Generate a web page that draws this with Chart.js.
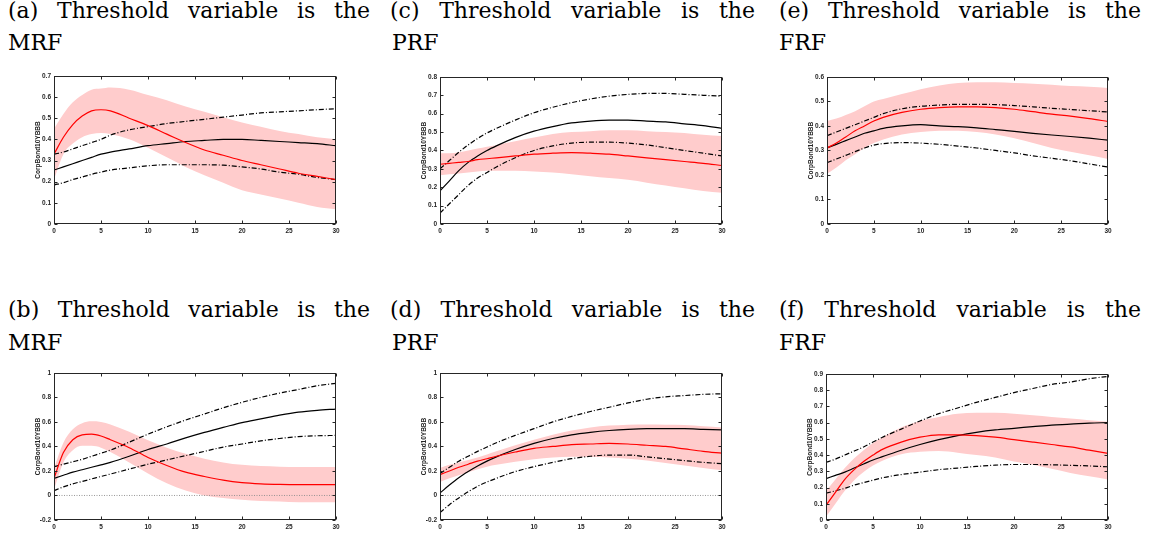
<!DOCTYPE html>
<html>
<head>
<meta charset="utf-8">
<script src="https://cdn.jsdelivr.net/npm/chart.js@4.4.1/dist/chart.umd.min.js"></script>
<style>
  body { margin: 0; background: #fff; width: 1157px; height: 535px; position: relative; overflow: hidden; }
  .cap { position: absolute; font-family: "DejaVu Serif", "Liberation Serif", serif; font-size: 22px; line-height: 24px; color: #000; white-space: nowrap; }
  .cap.l1 { text-align: justify; text-align-last: justify; }
  canvas { position: absolute; }
</style>
</head>
<body>
<div class="cap l1" style="left:8px;top:-1px;width:362px">(a) Threshold variable is the</div>
<div class="cap" style="left:8px;top:31px">MRF</div>
<div class="cap l1" style="left:390px;top:-1px;width:365px">(c) Threshold variable is the</div>
<div class="cap" style="left:392px;top:31px">PRF</div>
<div class="cap l1" style="left:779px;top:-1px;width:362px">(e) Threshold variable is the</div>
<div class="cap" style="left:779px;top:31px">FRF</div>

<div class="cap l1" style="left:8px;top:298px;width:362px">(b) Threshold variable is the</div>
<div class="cap" style="left:8px;top:331px">MRF</div>
<div class="cap l1" style="left:390px;top:298px;width:365px">(d) Threshold variable is the</div>
<div class="cap" style="left:392px;top:331px">PRF</div>
<div class="cap l1" style="left:779px;top:298px;width:362px">(f) Threshold variable is the</div>
<div class="cap" style="left:779px;top:331px">FRF</div>

<script>
// horizons (months after the shock)
const horizons = [0, 1, 2, 3, 4, 5, 6, 8, 10, 12, 14, 16, 18, 20, 22, 24, 26, 28, 30];
const xTicks = [0, 5, 10, 15, 20, 25, 30];
const zeroEnds = [0, 30];
const zeroLevel = [0, 0];

// (a) MRF, upper regime
const aMean   = [.33, .41, .47, .51, .535, .54, .535, .50, .465, .425, .385, .35, .325, .30, .28, .26, .24, .225, .21];
const aBandHi = [.45, .52, .575, .61, .635, .64, .645, .635, .61, .585, .555, .53, .505, .48, .46, .44, .425, .41, .40];
const aBandLo = [.21, .33, .38, .41, .425, .43, .425, .40, .36, .315, .27, .23, .195, .16, .14, .12, .10, .08, .07];
const aIrf    = [.255, .27, .285, .30, .315, .33, .34, .355, .37, .38, .39, .395, .40, .40, .395, .39, .385, .38, .37];
const aHi     = [.33, .34, .355, .37, .385, .40, .42, .445, .46, .475, .485, .495, .505, .515, .525, .53, .535, .54, .545];
const aLo     = [.185, .195, .21, .222, .235, .245, .255, .265, .275, .28, .28, .28, .278, .27, .26, .245, .235, .22, .21];

// (c) PRF, upper regime
const cMean   = [.325, .33, .335, .34, .35, .355, .36, .37, .38, .385, .388, .385, .38, .37, .36, .35, .34, .33, .318];
const cBandHi = [.385, .385, .39, .40, .41, .42, .43, .45, .47, .49, .50, .505, .51, .51, .505, .50, .495, .485, .478];
const cBandLo = [.265, .27, .275, .28, .285, .29, .29, .29, .285, .28, .27, .26, .25, .24, .225, .21, .195, .18, .17];
const cIrf    = [.18, .235, .29, .335, .37, .40, .425, .47, .505, .53, .55, .56, .565, .565, .56, .555, .545, .535, .52];
const cHi     = [.30, .345, .39, .43, .465, .495, .52, .565, .605, .635, .66, .68, .695, .705, .71, .71, .705, .70, .695];
const cLo     = [.06, .11, .16, .21, .25, .28, .31, .36, .40, .425, .44, .445, .445, .44, .43, .415, .40, .385, .37];

// (e) FRF, upper regime
const eMean   = [.31, .33, .355, .38, .40, .42, .435, .455, .468, .475, .478, .478, .475, .468, .458, .448, .44, .43, .418];
const eBandHi = [.42, .43, .445, .46, .48, .50, .51, .53, .55, .565, .575, .578, .578, .575, .572, .568, .563, .56, .555];
const eBandLo = [.205, .23, .26, .285, .31, .33, .345, .365, .375, .38, .38, .375, .365, .35, .33, .31, .295, .28, .265];
const eIrf    = [.31, .325, .34, .355, .37, .38, .39, .40, .405, .40, .397, .392, .385, .378, .37, .363, .357, .35, .342];
const eHi     = [.36, .375, .39, .405, .42, .435, .45, .47, .48, .485, .488, .488, .487, .483, .478, .472, .467, .462, .457];
const eLo     = [.25, .265, .28, .295, .31, .322, .328, .332, .33, .325, .318, .31, .30, .29, .278, .268, .258, .245, .232];

// (b) MRF, lower regime
const bMean   = [.14, .35, .455, .495, .50, .485, .455, .39, .31, .245, .19, .155, .125, .105, .095, .09, .088, .088, .088];
const bBandHi = [.22, .43, .54, .59, .605, .60, .58, .52, .45, .39, .34, .30, .27, .25, .24, .235, .233, .232, .232];
const bBandLo = [.05, .27, .37, .405, .405, .39, .355, .27, .18, .10, .04, .00, -.02, -.035, -.045, -.05, -.055, -.055, -.055];
const bIrf    = [.14, .165, .19, .21, .23, .25, .27, .32, .375, .42, .47, .515, .555, .595, .625, .655, .68, .695, .705];
const bHi     = [.235, .255, .275, .295, .32, .345, .37, .435, .50, .56, .615, .665, .715, .76, .80, .835, .865, .895, .915];
const bLo     = [.04, .07, .095, .115, .135, .155, .175, .215, .255, .29, .325, .36, .395, .42, .445, .465, .48, .487, .49];

// (d) PRF, lower regime
const dMean   = [.17, .20, .23, .255, .28, .30, .32, .355, .385, .40, .415, .42, .425, .42, .41, .40, .38, .36, .345];
const dBandHi = [.225, .25, .27, .29, .31, .335, .36, .41, .455, .495, .53, .555, .57, .578, .58, .578, .575, .565, .555];
const dBandLo = [.11, .14, .165, .19, .215, .235, .25, .275, .295, .31, .315, .315, .31, .30, .285, .265, .245, .225, .205];
const dIrf    = [.02, .085, .145, .195, .24, .28, .315, .375, .425, .465, .495, .515, .53, .54, .545, .545, .545, .54, .535];
const dHi     = [.18, .23, .28, .32, .36, .395, .43, .49, .545, .60, .645, .685, .72, .755, .785, .805, .815, .825, .83];
const dLo     = [-.14, -.075, -.02, .03, .075, .11, .14, .195, .235, .27, .30, .32, .33, .33, .315, .30, .285, .27, .26];

// (f) FRF, lower regime
const fMean   = [.09, .17, .25, .31, .36, .40, .435, .48, .51, .525, .525, .52, .51, .495, .48, .465, .45, .43, .41];
const fBandHi = [.18, .25, .32, .38, .43, .475, .51, .57, .61, .635, .655, .66, .66, .655, .645, .635, .625, .615, .605];
const fBandLo = [.02, .10, .18, .245, .295, .335, .365, .405, .42, .425, .415, .40, .385, .36, .34, .315, .29, .27, .25];
const fIrf    = [.255, .275, .295, .32, .345, .37, .39, .43, .465, .495, .52, .54, .555, .565, .575, .585, .59, .597, .60];
const fHi     = [.355, .375, .40, .425, .45, .48, .51, .56, .61, .655, .69, .725, .755, .785, .81, .835, .85, .87, .885];
const fLo     = [.165, .18, .195, .215, .23, .245, .26, .28, .295, .31, .32, .33, .338, .342, .342, .34, .337, .333, .328];

const yRangeA = [0, 0.7, 0.1];
const yRangeC = [0, 0.8, 0.1];
const yRangeE = [0, 0.6, 0.1];
const yRangeB = [-0.2, 1, 0.2];
const yRangeD = [-0.2, 1, 0.2];
const yRangeF = [0, 0.9, 0.1];

const AXIS_FONT = { family: 'Liberation Sans, Arial, sans-serif', size: 6.5, weight: 'bold' };
const TITLE_FONT = { family: 'Liberation Sans, Arial, sans-serif', size: 6.5, weight: 'bold' };
const AXIS_COLOR = '#262626';
const DASHDOT = [5, 2, 1, 2];

// box around the plot area with MATLAB-style inward ticks on all four sides
const framePlugin = {
  id: 'frame',
  afterDatasetsDraw(chart) {
    const { ctx, chartArea: { left, right, top, bottom }, scales: { x, y } } = chart;
    const L = Math.round(left) + 0.5, R = Math.round(right) - 0.5;
    const T = Math.round(top) + 0.5, B = Math.round(bottom) - 0.5;
    ctx.save();
    ctx.strokeStyle = AXIS_COLOR;
    ctx.lineWidth = 1;
    ctx.strokeRect(L, T, R - L, B - T);
    ctx.beginPath();
    x.ticks.forEach(t => {
      const px = Math.round(x.getPixelForValue(t.value)) + 0.5;
      ctx.moveTo(px, B); ctx.lineTo(px, B - 3);
      ctx.moveTo(px, T); ctx.lineTo(px, T + 3);
    });
    y.ticks.forEach(t => {
      const py = Math.round(y.getPixelForValue(t.value)) + 0.5;
      ctx.moveTo(L, py); ctx.lineTo(L + 3, py);
      ctx.moveTo(R, py); ctx.lineTo(R - 3, py);
    });
    ctx.stroke();
    ctx.restore();
  }
};

const pts = ys => horizons.map((h, i) => ({ x: h, y: ys[i] }));

function line(data, color, dash, order) {
  return {
    data: pts(data), borderColor: color, borderWidth: 1.2, borderDash: dash,
    pointRadius: 0, fill: false, cubicInterpolationMode: 'monotone', order
  };
}

function drawPanel(box, yRange, mean, bandHi, bandLo, irf, hi, lo) {
  const [l, t, r, b] = box;
  const padL = 22, padT = 6, padR = 8, padB = 14;
  const W = r - l + padL + padR, H = b - t + padT + padB;
  const canvas = document.createElement('canvas');
  canvas.width = W; canvas.height = H;
  canvas.style.left = (l - padL) + 'px';
  canvas.style.top = (t - padT) + 'px';
  canvas.style.width = W + 'px';
  canvas.style.height = H + 'px';
  document.body.appendChild(canvas);

  new Chart(canvas, {
    type: 'line',
    data: {
      datasets: [
        { data: pts(bandLo), borderWidth: 0, pointRadius: 0, fill: false, cubicInterpolationMode: 'monotone', order: 6 },
        { data: pts(bandHi), borderWidth: 0, pointRadius: 0, fill: '-1', backgroundColor: '#ffcccc', cubicInterpolationMode: 'monotone', order: 5 },
        { data: zeroEnds.map((x, i) => ({ x, y: zeroLevel[i] })), borderColor: '#8c8c8c', borderWidth: 0.9, borderDash: [1, 1.5], pointRadius: 0, fill: false, order: 4 },
        line(lo, '#000', DASHDOT, 3),
        line(hi, '#000', DASHDOT, 2),
        line(irf, '#000', [], 1),
        line(mean, '#ff0000', [], 0)
      ]
    },
    options: {
      responsive: false,
      animation: false,
      devicePixelRatio: 1,
      layout: { padding: { left: 0, top: padT, right: padR, bottom: 0 } },
      scales: {
        x: {
          type: 'linear', min: 0, max: 30,
          afterBuildTicks: s => { s.ticks = xTicks.map(v => ({ value: v })); },
          afterFit: s => { s.height = padB; },
          grid: { display: false, drawTicks: false },
          border: { display: false },
          ticks: { font: AXIS_FONT, color: AXIS_COLOR, padding: 3, maxRotation: 0, autoSkip: false }
        },
        y: {
          min: yRange[0], max: yRange[1],
          afterFit: s => { s.width = padL; },
          grid: { display: false, drawTicks: false },
          border: { display: false },
          ticks: {
            stepSize: yRange[2], font: AXIS_FONT, color: AXIS_COLOR, padding: 3,
            callback: v => String(Number(v.toFixed(1)))
          },
          title: { display: true, text: 'CorpBond10YBBB', font: TITLE_FONT, color: AXIS_COLOR, padding: { top: 2, bottom: 0 } }
        }
      },
      plugins: {
        legend: { display: false },
        tooltip: { enabled: false },
        filler: { propagate: false, drawTime: 'beforeDatasetsDraw' }
      }
    },
    plugins: [framePlugin]
  });
}

drawPanel([54, 75, 336, 224], yRangeA, aMean, aBandHi, aBandLo, aIrf, aHi, aLo);
drawPanel([440, 76, 722, 224], yRangeC, cMean, cBandHi, cBandLo, cIrf, cHi, cLo);
drawPanel([827, 76, 1108, 224], yRangeE, eMean, eBandHi, eBandLo, eIrf, eHi, eLo);
drawPanel([54, 372, 336, 520], yRangeB, bMean, bBandHi, bBandLo, bIrf, bHi, bLo);
drawPanel([440, 372, 722, 520], yRangeD, dMean, dBandHi, dBandLo, dIrf, dHi, dLo);
drawPanel([826, 373, 1108, 520], yRangeF, fMean, fBandHi, fBandLo, fIrf, fHi, fLo);
</script>
</body>
</html>
